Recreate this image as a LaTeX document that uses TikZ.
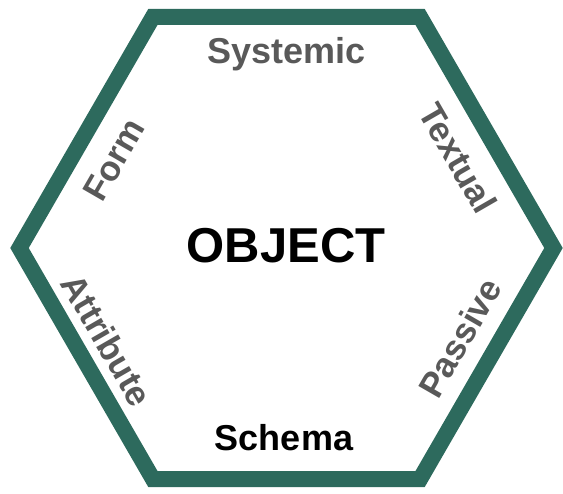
\documentclass[tikz,border=0pt]{standalone}
\usepackage{fontspec}
\setmainfont{Liberation Sans}
\definecolor{hexteal}{HTML}{2D6A5D}
\definecolor{lblgray}{HTML}{595959}
\begin{document}
\begin{tikzpicture}[x=1pt,y=-1pt,
  hexline/.style={draw=hexteal,line width=16pt,line join=miter},
  lbl/.style={text=lblgray,font=\fontsize{35}{35}\selectfont\bfseries,inner sep=0pt},
  title/.style={text=black,font=\fontsize{49}{49}\selectfont\bfseries,inner sep=0pt}]
\useasboundingbox (0,0) rectangle (563,494);
\coordinate (c) at (286.5,248);
\draw[hexline] (19.5,248) -- (153,16.8) -- (420,16.8) -- (553.5,248) -- (420,479.2) -- (153,479.2) -- cycle;
\node[title,anchor=base] (obj) at (286,263) {OBJECT};
\node[lbl,anchor=base,font=\fontsize{36}{36}\selectfont\bfseries] (sys) at (286.5,64) {Systemic};
\node[lbl,anchor=base,text=black,font=\fontsize{36}{36}\selectfont\bfseries] (sch) at (284,451) {Schema};
\node[lbl,rotate=60] (form) at (114,160) {Form};
\node[lbl,rotate=-60] (text) at (458,158) {Textual};
\node[lbl,rotate=-60] (attr) at (107,340) {Attribute};
\node[lbl,rotate=60] (pass) at (460,338) {Passive};
\end{tikzpicture}
\end{document}
